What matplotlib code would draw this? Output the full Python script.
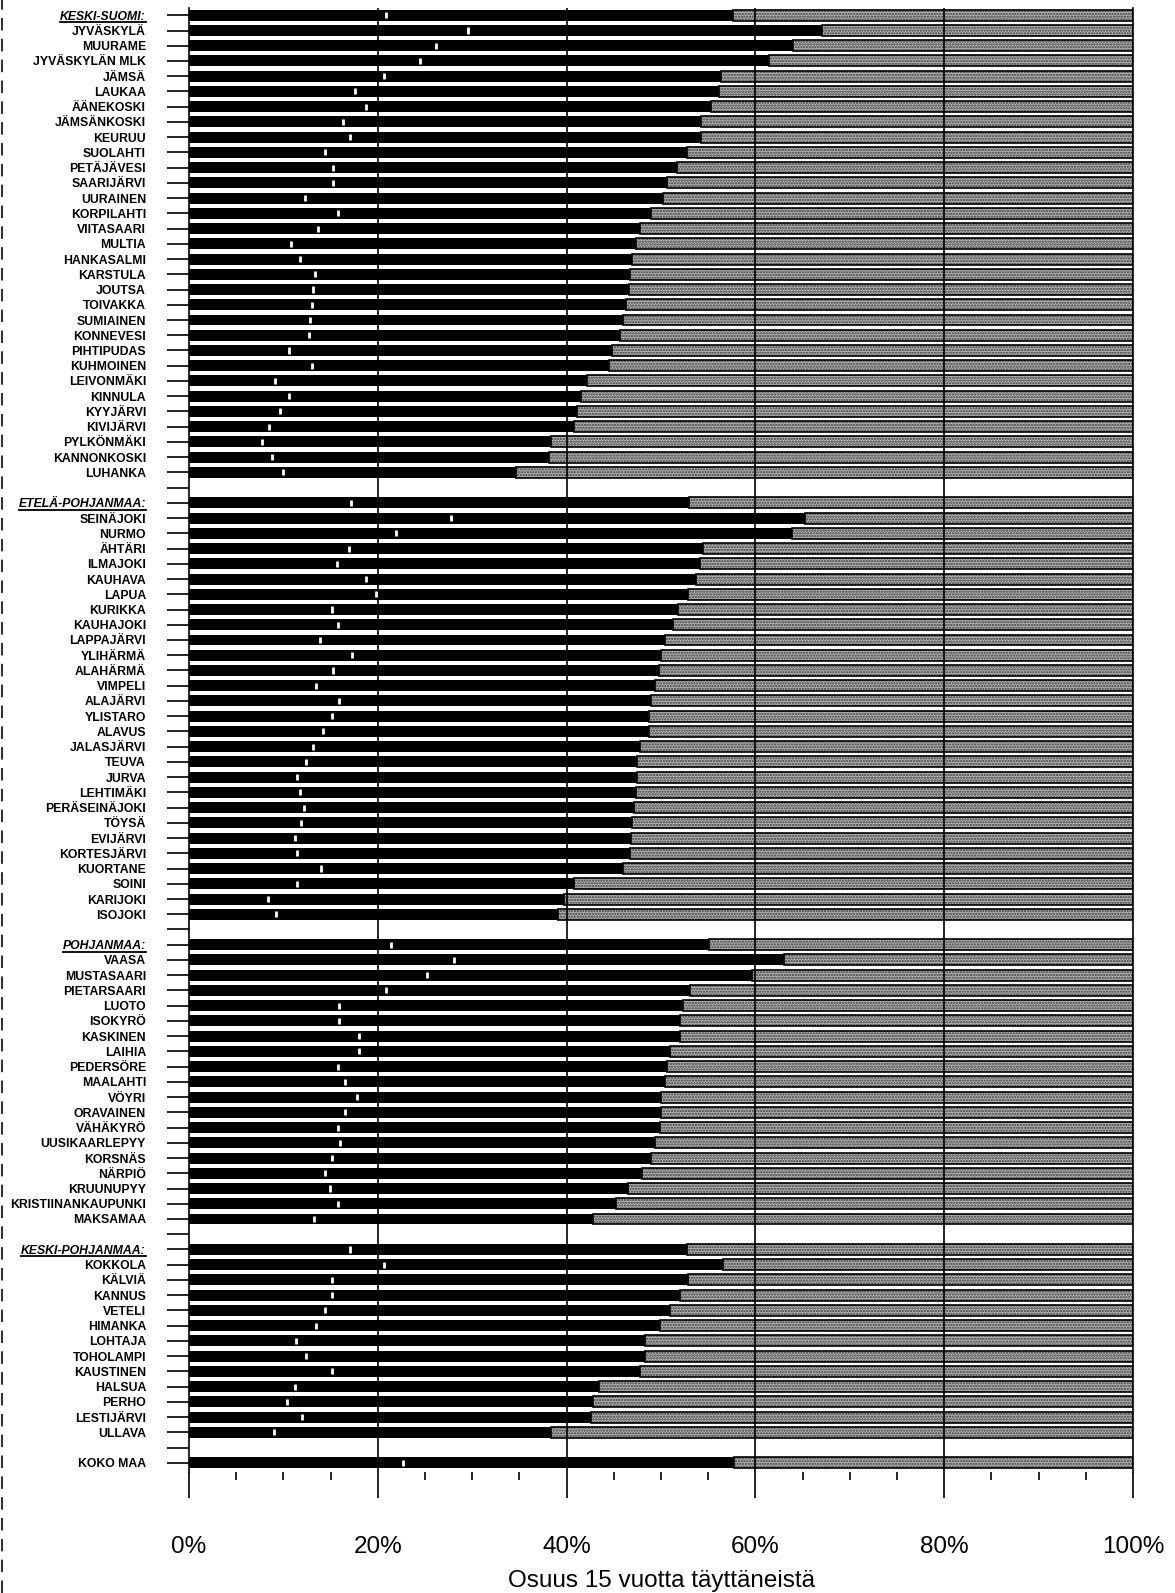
import matplotlib
matplotlib.use("Agg")
import matplotlib.pyplot as plt
from matplotlib.lines import Line2D
import numpy as np

# rows from top to bottom, None = empty spacer row
labels = [
    "KESKI-SUOMI:", "JYVÄSKYLÄ", "MUURAME", "JYVÄSKYLÄN MLK", "JÄMSÄ", "LAUKAA",
    "ÄÄNEKOSKI", "JÄMSÄNKOSKI", "KEURUU", "SUOLAHTI", "PETÄJÄVESI", "SAARIJÄRVI",
    "UURAINEN", "KORPILAHTI", "VIITASAARI", "MULTIA", "HANKASALMI", "KARSTULA",
    "JOUTSA", "TOIVAKKA", "SUMIAINEN", "KONNEVESI", "PIHTIPUDAS", "KUHMOINEN",
    "LEIVONMÄKI", "KINNULA", "KYYJÄRVI", "KIVIJÄRVI", "PYLKÖNMÄKI", "KANNONKOSKI",
    "LUHANKA", None,
    "ETELÄ-POHJANMAA:", "SEINÄJOKI", "NURMO", "ÄHTÄRI", "ILMAJOKI", "KAUHAVA",
    "LAPUA", "KURIKKA", "KAUHAJOKI", "LAPPAJÄRVI", "YLIHÄRMÄ", "ALAHÄRMÄ",
    "VIMPELI", "ALAJÄRVI", "YLISTARO", "ALAVUS", "JALASJÄRVI", "TEUVA", "JURVA",
    "LEHTIMÄKI", "PERÄSEINÄJOKI", "TÖYSÄ", "EVIJÄRVI", "KORTESJÄRVI", "KUORTANE",
    "SOINI", "KARIJOKI", "ISOJOKI", None,
    "POHJANMAA:", "VAASA", "MUSTASAARI", "PIETARSAARI", "LUOTO", "ISOKYRÖ",
    "KASKINEN", "LAIHIA", "PEDERSÖRE", "MAALAHTI", "VÖYRI", "ORAVAINEN",
    "VÄHÄKYRÖ", "UUSIKAARLEPYY", "KORSNÄS", "NÄRPIÖ", "KRUUNUPYY",
    "KRISTIINANKAUPUNKI", "MAKSAMAA", None,
    "KESKI-POHJANMAA:", "KOKKOLA", "KÄLVIÄ", "KANNUS", "VETELI", "HIMANKA",
    "LOHTAJA", "TOHOLAMPI", "KAUSTINEN", "HALSUA", "PERHO", "LESTIJÄRVI",
    "ULLAVA", None,
    "KOKO MAA",
]

headers = ["KESKI-SUOMI:", "ETELÄ-POHJANMAA:", "POHJANMAA:", "KESKI-POHJANMAA:"]

# inner boundary (white mark) in %
inner = [
    20.9, 29.5, 26.2, 24.5, 20.6, 17.6, 18.7, 16.3, 17.1, 14.4, 15.2, 15.2,
    12.3, 15.8, 13.7, 10.8, 11.8, 13.3, 13.1, 13.0, 12.8, 12.7, 10.6, 13.0,
    9.1, 10.6, 9.6, 8.5, 7.7, 8.8, 9.9, None,
    17.2, 27.8, 21.9, 16.9, 15.7, 18.7, 19.8, 15.1, 15.8, 13.9, 17.3, 15.2,
    13.5, 15.9, 15.1, 14.2, 13.1, 12.4, 11.4, 11.7, 12.2, 11.9, 11.2, 11.4,
    14.0, 11.4, 8.4, 9.2, None,
    21.4, 28.1, 25.2, 20.9, 15.9, 15.9, 18.0, 18.0, 15.8, 16.5, 17.8, 16.5,
    15.8, 16.0, 15.1, 14.4, 14.9, 15.8, 13.2, None,
    17.0, 20.6, 15.1, 15.1, 14.4, 13.5, 11.3, 12.4, 15.1, 11.2, 10.4, 12.0,
    9.0, None,
    22.7,
]

# total share of the dark part in %
dark = [
    57.6, 67.1, 64.0, 61.4, 56.3, 56.1, 55.3, 54.2, 54.2, 52.7, 51.7, 50.6,
    50.2, 48.9, 47.8, 47.3, 46.9, 46.7, 46.6, 46.3, 46.0, 45.7, 44.8, 44.5,
    42.2, 41.5, 41.1, 40.8, 38.3, 38.1, 34.6, None,
    53.0, 65.3, 63.9, 54.4, 54.1, 53.7, 52.9, 51.8, 51.3, 50.4, 50.0, 49.8,
    49.4, 48.9, 48.7, 48.7, 47.8, 47.5, 47.5, 47.3, 47.1, 46.9, 46.8, 46.7,
    46.0, 40.8, 39.7, 39.1, None,
    55.1, 63.0, 59.6, 53.1, 52.3, 52.0, 52.0, 51.0, 50.6, 50.4, 50.0, 50.0,
    49.9, 49.4, 48.9, 48.0, 46.5, 45.2, 42.8, None,
    52.8, 56.6, 52.9, 52.0, 51.0, 49.9, 48.3, 48.3, 47.8, 43.4, 42.8, 42.6,
    38.3, None,
    57.7,
]

rows = np.arange(len(labels))
bar_rows = [i for i in rows if labels[i] is not None]
v_in = np.array([inner[i] for i in bar_rows])
v_dk = np.array([dark[i] for i in bar_rows])
y = np.array(bar_rows)

plt.rcParams['font.family'] = ['Liberation Sans', 'DejaVu Sans']
plt.rcParams['hatch.linewidth'] = 1.1

fig = plt.figure(figsize=(11.75, 15.93), dpi=100)
ax = fig.add_axes([0.1609, 0.0760, 0.8034, 0.9192])

h = 0.72
ax.barh(y, v_dk, height=h, color="black", linewidth=0, zorder=2)
ax.barh(y, 100 - v_dk, left=v_dk, height=h, color="#b2b2b2",
        edgecolor="#3c3c3c", hatch="......", linewidth=0, zorder=2)
ax.barh(y, 100 - v_dk, left=v_dk, height=h, fill=False,
        edgecolor="black", linewidth=1.2, zorder=3)
# white boundary marks inside the dark part
ax.vlines(v_in, y - 0.2, y + 0.2, color="white", linewidth=2.0, zorder=4)

for gx in [20, 40, 60, 80]:
    ax.axvline(gx, color="black", linewidth=1.2, zorder=3.5)

ax.set_xlim(0, 100)
ax.set_ylim(len(labels) - 0.4, -0.5)

ax.set_yticks(rows)
ax.set_yticklabels(["" if l is None else l for l in labels])
ax.tick_params(axis="y", length=16, width=1.2, pad=15, labelsize=8.8)
for t in ax.get_yticklabels():
    t.set_fontweight("bold")
    if t.get_text() in headers:
        t.set_fontstyle("italic")

ax.set_xticks([0, 20, 40, 60, 80, 100])
ax.set_xticklabels(["0%", "20%", "40%", "60%", "80%", "100%"])
ax.set_xticks(np.arange(0, 101, 5), minor=True)
ax.tick_params(axis="x", which="major", length=19, width=1.2, pad=27,
               labelsize=17.5)
ax.tick_params(axis="x", which="minor", length=6, width=1.2)

ax.spines["top"].set_visible(False)
ax.spines["bottom"].set_visible(False)
ax.spines["left"].set_linewidth(1.2)
ax.spines["right"].set_linewidth(1.2)

ax.set_xlabel("Osuus 15 vuotta täyttäneistä", fontsize=17.5, labelpad=9)

# underline the region headers
fig.canvas.draw()
r = fig.canvas.get_renderer()
for t in ax.get_yticklabels():
    if t.get_text() in headers:
        bb = t.get_window_extent(r)
        yy = (bb.y0 + 0.5) / fig.bbox.height
        fig.add_artist(Line2D([bb.x0 / fig.bbox.width, bb.x1 / fig.bbox.width],
                              [yy, yy], transform=fig.transFigure,
                              color="black", linewidth=1.3))

# scan edge on the left
fig.add_artist(Line2D([0.002, 0.002], [0.0, 1.0], transform=fig.transFigure,
                      color="#333333", linewidth=1.5, linestyle=(0, (6, 4))))

fig.savefig("out.png", dpi=100)
